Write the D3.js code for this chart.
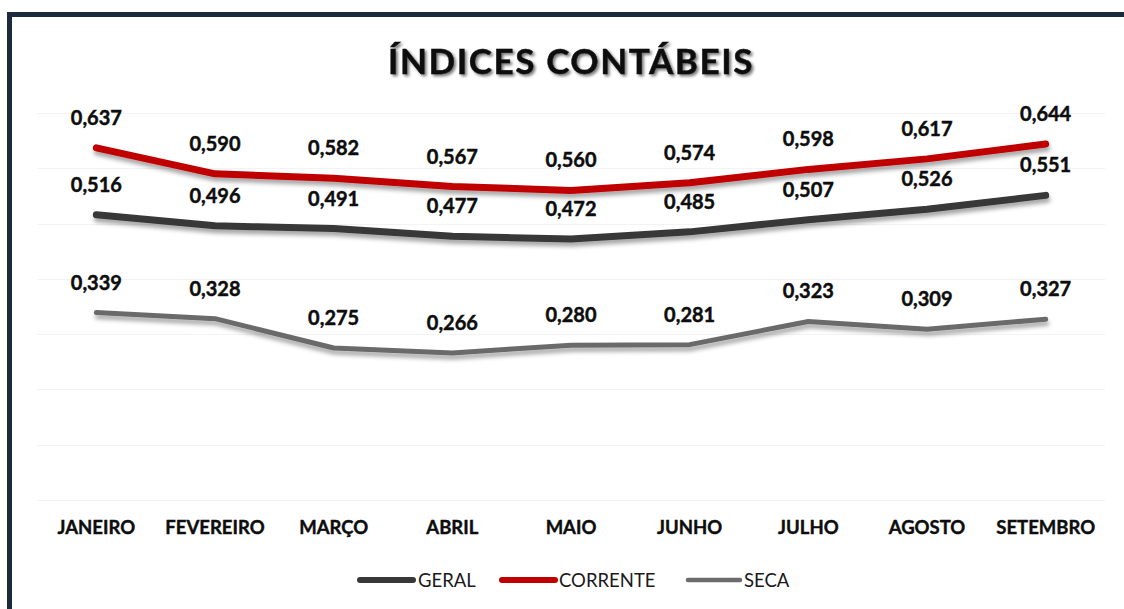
<!DOCTYPE html>
<html>
<head>
<meta charset="utf-8">
<script src="https://cdn.jsdelivr.net/npm/d3@7"></script>
<style>
  html, body { margin: 0; padding: 0; background: #ffffff; }
  svg { display: block; }
</style>
</head>
<body>
<svg id="chart" width="1124" height="609"></svg>
<script>
const months = ["JANEIRO", "FEVEREIRO", "MARÇO", "ABRIL", "MAIO", "JUNHO", "JULHO", "AGOSTO", "SETEMBRO"];
const geral    = [0.516, 0.496, 0.491, 0.477, 0.472, 0.485, 0.507, 0.526, 0.551];
const corrente = [0.637, 0.590, 0.582, 0.567, 0.560, 0.574, 0.598, 0.617, 0.644];
const seca     = [0.339, 0.328, 0.275, 0.266, 0.280, 0.281, 0.323, 0.309, 0.327];
const gridTicks = [0, 0.1, 0.2, 0.3, 0.4, 0.5, 0.6, 0.7];
const seriesNames = ["GERAL", "CORRENTE", "SECA"];
const title = "ÍNDICES CONTÁBEIS";

const series = [
  { name: seriesNames[0], values: geral,    color: "#383838", width: 7 },
  { name: seriesNames[1], values: corrente, color: "#c00000", width: 7 },
  { name: seriesNames[2], values: seca,     color: "#6b6b6b", width: 5 }
];

const svg = d3.select("#chart");
const defs = svg.append("defs");

const f = defs.append("filter").attr("id", "lineShadow")
  .attr("x", "-5%").attr("y", "-50%").attr("width", "110%").attr("height", "200%");
f.append("feGaussianBlur").attr("in", "SourceAlpha").attr("stdDeviation", 2.2).attr("result", "b");
f.append("feOffset").attr("in", "b").attr("dx", 1).attr("dy", 4).attr("result", "o");
f.append("feFlood").attr("flood-color", "#000").attr("flood-opacity", 0.35).attr("result", "c");
f.append("feComposite").attr("in", "c").attr("in2", "o").attr("operator", "in").attr("result", "s");
const fm = f.append("feMerge");
fm.append("feMergeNode").attr("in", "s");
fm.append("feMergeNode").attr("in", "SourceGraphic");

const tf = defs.append("filter").attr("id", "titleShadow")
  .attr("x", "-5%").attr("y", "-30%").attr("width", "110%").attr("height", "160%");
tf.append("feGaussianBlur").attr("in", "SourceAlpha").attr("stdDeviation", 1.6).attr("result", "b");
tf.append("feOffset").attr("in", "b").attr("dx", 2).attr("dy", 2).attr("result", "o");
tf.append("feFlood").attr("flood-color", "#000").attr("flood-opacity", 0.55).attr("result", "c");
tf.append("feComposite").attr("in", "c").attr("in2", "o").attr("operator", "in").attr("result", "s");
const tm = tf.append("feMerge");
tm.append("feMergeNode").attr("in", "s");
tm.append("feMergeNode").attr("in", "SourceGraphic");

// Frame
svg.append("rect")
  .attr("x", 9.5).attr("y", 14.5).attr("width", 1140).attr("height", 640)
  .attr("fill", "#ffffff").attr("stroke", "#1c2a3d").attr("stroke-width", 5);

const x = d3.scaleBand().domain(months).range([37, 1105]).padding(0);
const y = d3.scaleLinear().domain([0, 0.7]).range([500, 113]);
const cx = m => x(m) + x.bandwidth() / 2;

// Gridlines
svg.append("g").selectAll("line").data(gridTicks).join("line")
  .attr("x1", 37).attr("x2", 1105)
  .attr("y1", d => Math.round(y(d)) + 0.5).attr("y2", d => Math.round(y(d)) + 0.5)
  .attr("stroke", "#f3f3f3").attr("stroke-width", 1);

// Title
svg.append("text")
  .attr("x", 571).attr("y", 74)
  .attr("text-anchor", "middle")
  .attr("font-family", "Lato, 'Open Sans', sans-serif")
  .attr("font-weight", 700)
  .attr("font-size", 35)
  .attr("letter-spacing", 1.6)
  .attr("fill", "#0d0d0d")
  .attr("stroke", "#0d0d0d").attr("stroke-width", 0.4)
  .attr("filter", "url(#titleShadow)")
  .text(title);

// Lines
const line = d3.line().x((d, i) => cx(months[i])).y(d => y(d)).curve(d3.curveLinear);
const drawOrder = [series[2], series[0], series[1]];
svg.append("g").selectAll("path").data(drawOrder).join("path")
  .attr("d", s => line(s.values))
  .attr("fill", "none")
  .attr("stroke", s => s.color)
  .attr("stroke-width", s => s.width)
  .attr("stroke-linecap", "round")
  .attr("stroke-linejoin", "round")
  .attr("filter", "url(#lineShadow)");

// Data labels
const fmt = v => v.toFixed(3).replace(".", ",");
series.forEach(s => {
  svg.append("g").selectAll("text").data(s.values).join("text")
    .attr("x", (d, i) => cx(months[i]))
    .attr("y", d => y(d) - 23)
    .attr("text-anchor", "middle")
    .attr("font-family", "Lato, 'Open Sans', sans-serif")
    .attr("font-weight", 700)
    .attr("font-size", 20)
    .attr("fill", "#0d0d0d")
    .attr("stroke", "#0d0d0d").attr("stroke-width", 0.45)
    .text(fmt);
});

// X axis labels
const xAxis = d3.axisBottom(x).tickSize(0).tickPadding(0);
const gx = svg.append("g").attr("transform", "translate(0,521)").call(xAxis);
gx.select(".domain").remove();
gx.selectAll("text")
  .attr("font-family", "Lato, 'Open Sans', sans-serif")
  .attr("font-weight", 700)
  .attr("font-size", 18.5)
  .attr("fill", "#0d0d0d")
  .attr("stroke", "#0d0d0d").attr("stroke-width", 0.4);

// Legend
const legendItems = [
  { s: series[0], x0: 360, x1: 413, tx: 418 },
  { s: series[1], x0: 502, x1: 555, tx: 559 },
  { s: series[2], x0: 688, x1: 740, tx: 744 }
];
const lg = svg.append("g");
legendItems.forEach(it => {
  lg.append("line")
    .attr("x1", it.x0).attr("x2", it.x1).attr("y1", 580).attr("y2", 580)
    .attr("stroke", it.s.color).attr("stroke-width", it.s.width === 7 ? 6 : 4.5)
    .attr("stroke-linecap", "round");
  lg.append("text")
    .attr("x", it.tx).attr("y", 586.5)
    .attr("font-family", "Lato, 'Open Sans', sans-serif")
    .attr("font-size", 18.5)
    .attr("fill", "#1a1a1a")
    .text(it.s.name);
});
</script>
</body>
</html>
